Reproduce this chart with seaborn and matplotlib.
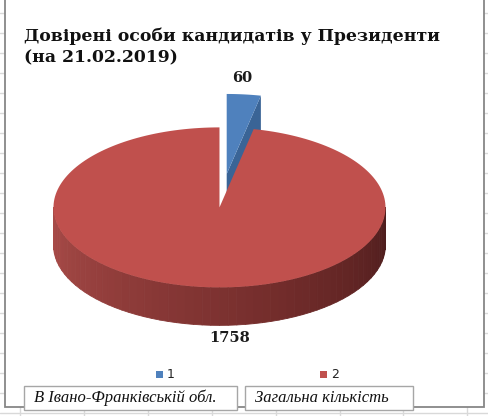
import numpy as np
import seaborn as sns
import matplotlib.pyplot as plt
from matplotlib.patches import Polygon, Rectangle
from matplotlib.collections import PolyCollection

# data
values = [60, 1758]
series_names = ["1", "2"]
box_labels = ["В Івано-Франківській обл.", "Загальна кількість"]
title_lines = ["Довірені особи кандидатів у Президенти", "(на 21.02.2019)"]
explode = [0.39, 0.03]

sns.set_theme(style="white")
plt.rcParams['font.family'] = ['DejaVu Sans']

top_colors = ["#4F81BD", "#C0504D"]
side_colors = ["#3A6496", None]
red_side = sns.blend_palette(["#AA4C49", "#8C3A38", "#6E2A29", "#4E1D1D"], 60)

# pie layout (pixels)
cx, cy, a, b, depth = 220, 205, 166, 80, 38

fig = plt.figure(figsize=(4.88, 4.16), dpi=100)
ax = fig.add_axes([0, 0, 1, 1])
ax.set_xlim(0, 488)
ax.set_ylim(416, 0)
ax.axis('off')

# spreadsheet grid behind the chart
for y in np.arange(13, 420, 20):
    ax.axhline(y, color="#D9D9D9", lw=1, zorder=0)
for x in np.arange(20, 488, 63.9):
    ax.axvline(x, color="#D9D9D9", lw=1, zorder=0)
ax.add_patch(Rectangle((5, -5), 479, 412, facecolor="white",
                       edgecolor="#878787", lw=1.3, zorder=1))


def pt(theta, off, dz=0.0):
    return (cx + a * np.cos(theta) + off[0], cy - b * np.sin(theta) + off[1] + dz)


total = sum(values)
start = np.pi / 2
wedges = []
for i, v in enumerate(values):
    sweep = 2 * np.pi * v / total
    t0, t1 = start, start - sweep  # clockwise
    mid = (t0 + t1) / 2
    off = (explode[i] * a * np.cos(mid), -explode[i] * b * np.sin(mid))
    apex = (cx + off[0], cy + off[1])
    wedges.append((t0, t1, off, apex))
    start = t1

# slice 1 (small, exploded, behind)
t0, t1, off, apex = wedges[0]
r1 = pt(t1, off)
ax.add_patch(Polygon([apex, r1, (r1[0], r1[1] + depth), (apex[0], apex[1] + depth)],
                     closed=True, facecolor=side_colors[0], edgecolor="none", zorder=3))
arc = [pt(t, off) for t in np.linspace(t0, t1, 30)]
ax.add_patch(Polygon([apex] + arc, closed=True, facecolor=top_colors[0],
                     edgecolor="none", zorder=4))

# slice 2 side (front rim)
t0, t1, off, apex = wedges[1]
ts = np.linspace(np.pi, 2 * np.pi, 61)
quads, cols = [], []
for k in range(60):
    p0, p1 = pt(ts[k], off), pt(ts[k + 1], off)
    quads.append([p0, p1, (p1[0], p1[1] + depth), (p0[0], p0[1] + depth)])
    cols.append(red_side[k])
ax.add_collection(PolyCollection(quads, facecolors=cols, edgecolors=cols,
                                 linewidths=0.6, zorder=5))
arc = [pt(t, off) for t in np.linspace(t0, t1, 200)]
ax.add_patch(Polygon([apex] + arc, closed=True, facecolor=top_colors[1],
                     edgecolor="none", zorder=6))

# data labels
ax.text(242, 78, str(values[0]), ha="center", va="center", fontsize=10.5,
        fontweight="bold", family="DejaVu Serif", color="#1a1a1a", zorder=7)
ax.text(230, 338, str(values[1]), ha="center", va="center", fontsize=10.5,
        fontweight="bold", family="DejaVu Serif", color="#1a1a1a", zorder=7)

# title
ax.text(24, 41, title_lines[0], ha="left", va="baseline", fontsize=12.4,
        fontweight="bold", family="DejaVu Serif", color="#111111", zorder=7)
ax.text(24, 62, title_lines[1], ha="left", va="baseline", fontsize=12.4,
        fontweight="bold", family="DejaVu Serif", color="#111111", zorder=7)

# legend
for (lx, name, col) in zip([156, 320], series_names, top_colors):
    ax.add_patch(Rectangle((lx, 371), 7, 7, facecolor=col, edgecolor="none", zorder=7))
    ax.text(lx + 11, 375, name, ha="left", va="center", fontsize=9,
            family="DejaVu Sans", color="#222222", zorder=7)

# text boxes
for (bx, bw, txt) in zip([24, 245], [213, 168], box_labels):
    ax.add_patch(Rectangle((bx, 386), bw, 24, facecolor="white",
                           edgecolor="#A6A6A6", lw=1, zorder=8))
    ax.text(bx + 10, 398, txt, ha="left", va="center", fontsize=12,
            style="italic", family="Liberation Serif", color="#111111", zorder=9)

fig.savefig("out.png", dpi=100)
